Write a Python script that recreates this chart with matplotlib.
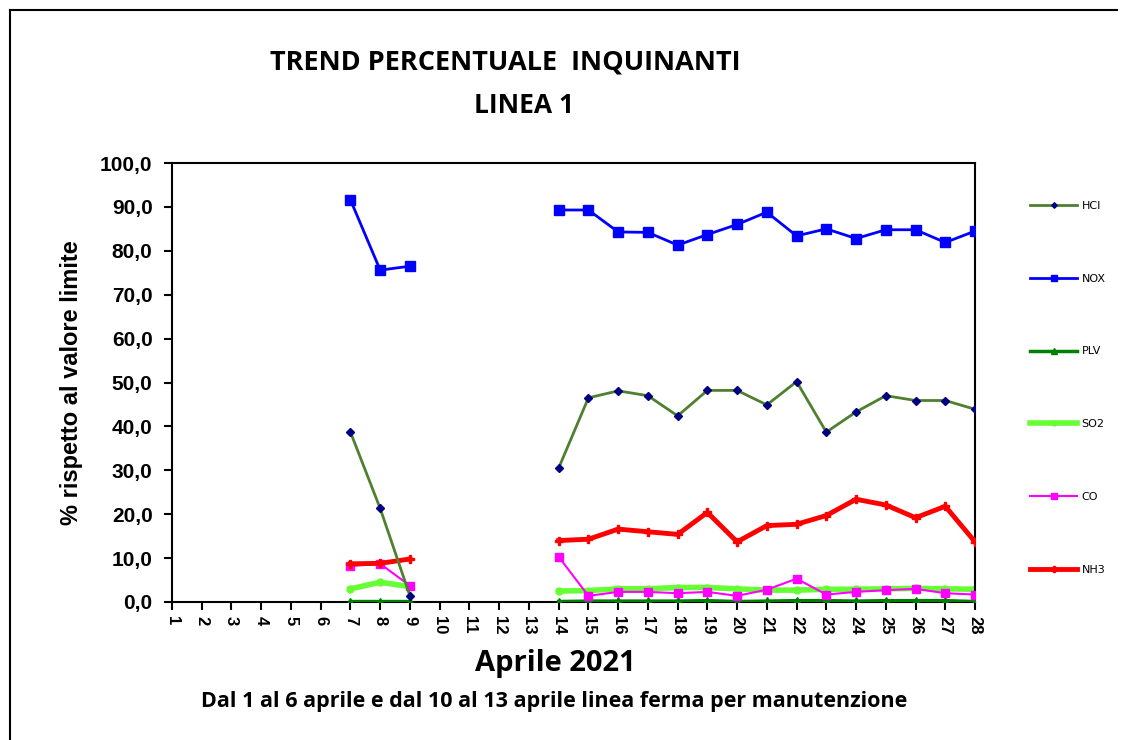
import numpy as np
import matplotlib
matplotlib.use("Agg")
import matplotlib.pyplot as plt
from matplotlib.lines import Line2D

# =========================
# DATI
# =========================

giorni = list(range(1, 29))
nan = np.nan

# giorni 1-6 e 10-13 linea ferma
hcl = [nan]*6 + [38.7, 21.3, 1.4] + [nan]*4 + [30.5, 46.5, 48.1, 47.0, 42.4, 48.2, 48.2, 44.9,
                                                50.2, 38.7, 43.3, 47.0, 45.9, 45.9, 43.9]
nox = [nan]*6 + [91.6, 75.6, 76.5] + [nan]*4 + [89.3, 89.3, 84.3, 84.2, 81.3, 83.7, 86.0, 88.8,
                                                83.4, 85.0, 82.8, 84.8, 84.8, 81.9, 84.5]
plv = [nan]*6 + [0.1, 0.1, 0.1] + [nan]*4 + [0.1, 0.2, 0.2, 0.2, 0.2, 0.3, 0.1, 0.2,
                                             0.3, 0.3, 0.2, 0.3, 0.3, 0.3, 0.1]
so2 = [nan]*6 + [3.0, 4.5, 3.5] + [nan]*4 + [2.5, 2.6, 3.0, 3.0, 3.3, 3.3, 3.0, 2.7,
                                             2.7, 2.9, 2.9, 3.0, 3.1, 3.0, 2.9]
co = [nan]*6 + [8.2, 8.7, 3.7] + [nan]*4 + [10.3, 1.4, 2.3, 2.3, 2.0, 2.3, 1.4, 2.8,
                                            5.3, 1.7, 2.3, 2.7, 3.0, 2.0, 1.7]
nh3 = [nan]*6 + [8.7, 8.8, 9.8] + [nan]*4 + [14.0, 14.3, 16.6, 16.0, 15.4, 20.4, 13.7, 17.4,
                                             17.7, 19.7, 23.4, 22.1, 19.2, 21.8, 13.7]

y_ticks = list(range(0, 101, 10))
y_labels = [f"{v},0" for v in y_ticks]

# =========================
# GRAFICO
# =========================

fig = plt.figure(figsize=(11.25, 7.4), dpi=100)
ax = fig.add_axes([0.1529, 0.1865, 0.7138, 0.5932])

ax.plot(giorni, so2, color="#66ff33", lw=4, marker="o", ms=5, mfc="#66ff33",
        mec="#66ff33", label="SO2", zorder=2)
ax.plot(giorni, plv, color="#008000", lw=2.5, marker="^", ms=6, label="PLV", zorder=3)
ax.plot(giorni, co, color="#ff00ff", lw=1.5, marker="s", ms=6, label="CO", zorder=4)
ax.plot(giorni, nh3, color="#ff0000", lw=3.5, marker="P", ms=6, label="NH3", zorder=5)
ax.plot(giorni, hcl, color="#4f8030", lw=2, marker="D", ms=4, mfc="#000080",
        mec="#000080", label="HCl", zorder=6)
ax.plot(giorni, nox, color="#0000ff", lw=2, marker="s", ms=7, label="NOX", zorder=7)

ax.set_xlim(1, 28)
ax.set_ylim(0, 100)
ax.set_xticks(giorni)
ax.set_xticklabels([str(g) for g in giorni], rotation=270, fontsize=12,
                   fontweight="bold", family="Liberation Sans")
ax.set_yticks(y_ticks)
ax.set_yticklabels(y_labels, fontsize=15, fontweight="bold", family="Liberation Sans")
ax.tick_params(axis="both", direction="out", length=6, width=1.5)
ax.tick_params(axis="x", pad=4)
ax.tick_params(axis="y", pad=8)
for s in ax.spines.values():
    s.set_linewidth(1.5)

ax.set_ylabel("% rispetto al valore limite", fontsize=17, fontweight="bold",
              family="Liberation Sans", labelpad=12)

fig.text(0.4489, 0.916, "TREND PERCENTUALE  INQUINANTI", ha="center", va="center",
         fontsize=19.5, fontweight="bold", family="Open Sans")
fig.text(0.4658, 0.857, "LINEA 1", ha="center", va="center",
         fontsize=19, fontweight="bold", family="Open Sans")
fig.text(0.4933, 0.103, "Aprile 2021", ha="center", va="center",
         fontsize=21, fontweight="bold", family="Open Sans")
fig.text(0.4924, 0.052, "Dal 1 al 6 aprile e dal 10 al 13 aprile linea ferma per manutenzione",
         ha="center", va="center", fontsize=15.5, fontweight="bold", family="Open Sans")

# legenda a destra
ordine = ["HCl", "NOX", "PLV", "SO2", "CO", "NH3"]
handles, labels = ax.get_legend_handles_labels()
mappa = dict(zip(labels, handles))
leg = fig.legend([mappa[k] for k in ordine], ["HCI", "NOX", "PLV", "SO2", "CO", "NH3"],
                 loc="upper left", bbox_to_anchor=(0.907, 0.742), frameon=False,
                 fontsize=8, labelspacing=5.65, handlelength=4.2, handletextpad=0.4,
                 markerscale=0.7)

# cornice
fig.add_artist(Line2D([0.009, 0.009], [0.0, 0.987], color="black", lw=1.5))
fig.add_artist(Line2D([0.009, 0.993], [0.987, 0.987], color="black", lw=1.5))

fig.savefig("out.png", dpi=100)
